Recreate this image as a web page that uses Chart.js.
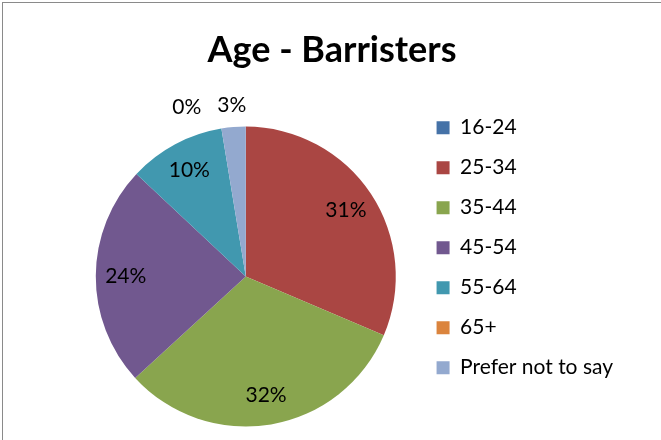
<!DOCTYPE html>
<html>
<head>
<meta charset="utf-8">
<script src="https://cdn.jsdelivr.net/npm/chart.js@4.4.1/dist/chart.umd.min.js"></script>
<style>
html, body { margin:0; padding:0; background:#fff; overflow:hidden; }
#frame { position:absolute; left:2px; top:2px; width:720px; height:520px; border:1px solid #8a8a8a; }
#wrap { position:absolute; left:0; top:0; width:661px; height:460px; }
</style>
</head>
<body>
<div id="frame"></div>
<div id="wrap"><canvas id="ageChart" width="661" height="460"></canvas></div>
<script>
// ==========================================================
// Data
// ==========================================================

const chartTitle = "Age - Barristers";

const ageGroups = ["16-24", "25-34", "35-44", "45-54", "55-64", "65+", "Prefer not to say"];

const sharePercent = [0, 31.4, 31.8, 23.8, 10.4, 0, 2.6];

const sliceColors = ["#4572A7", "#AA4643", "#89A54E", "#71588F", "#4198AF", "#DB843D", "#93A9CF"];

// ==========================================================
// Percentage labels (inside big slices, outside small ones)
// ==========================================================

const pieLabels = {

    id: "pieLabels",

    afterDatasetsDraw(chart){

        const ctx = chart.ctx;
        const meta = chart.getDatasetMeta(0);
        const values = chart.data.datasets[0].data;
        const total = values.reduce((a, b) => a + b, 0);
        const placed = [];

        ctx.save();
        ctx.font = "21px Lato";
        ctx.fillStyle = "#000";
        ctx.textAlign = "center";
        ctx.textBaseline = "middle";

        // walk backwards so the labels near the top settle in order
        for(let i = meta.data.length - 1; i >= 0; i--){

            const arc = meta.data[i];
            const pct = values[i] / total * 100;
            const text = Math.round(pct) + "%";
            const mid = (arc.startAngle + arc.endAngle) / 2;
            const outside = pct < 5;
            const dist = outside ? arc.outerRadius + 22 : arc.outerRadius * 0.8;
            const w = ctx.measureText(text).width;

            let x = arc.x + Math.cos(mid) * dist;
            let y = arc.y + Math.sin(mid) * dist;

            const hit = (cx) => placed.find(b =>
                cx - w / 2 < b.x2 && cx + w / 2 > b.x1 && y - 10 < b.y2 && y + 10 > b.y1);

            let other = hit(x);

            if(other){
                x = other.x1 - 16 - w / 2;
                if(hit(x)) continue;
            }

            placed.push({ x1: x - w / 2, x2: x + w / 2, y1: y - 10, y2: y + 10 });
            ctx.fillText(text, x, y);

        }

        ctx.restore();

    }

};

// ==========================================================
// Title centred across the whole frame, not the padded box
// ==========================================================

const titleAcrossFrame = {

    id: "titleAcrossFrame",

    afterLayout(chart){

        const t = chart.titleBlock;

        if(!t) return;

        t.left = 3;
        t.right = chart.width;
        t.width = t.right - t.left;

    }

};

// ==========================================================
// Chart
// ==========================================================

new Chart(document.getElementById("ageChart"), {

    type: "pie",

    data: {

        labels: ageGroups,

        datasets: [{

            data: sharePercent,

            backgroundColor: sliceColors,

            borderWidth: 0,

            radius: 150

        }]

    },

    options: {

        responsive: false,

        animation: false,

        layout: {
            padding: { left: 74, right: 38, top: 0, bottom: 5 }
        },

        plugins: {

            title: {
                display: true,
                text: chartTitle,
                color: "#000",
                font: { family: "Lato", size: 36, weight: "bold" },
                padding: { top: 29, bottom: 26 }
            },

            legend: {
                position: "right",
                align: "start",
                fullSize: false,
                labels: {
                    color: "#000",
                    font: { family: "Lato", size: 21 },
                    boxWidth: 13,
                    boxHeight: 13,
                    padding: 19
                }
            },

            tooltip: { enabled: false }

        }

    },

    plugins: [pieLabels, titleAcrossFrame]

});
</script>
</body>
</html>
